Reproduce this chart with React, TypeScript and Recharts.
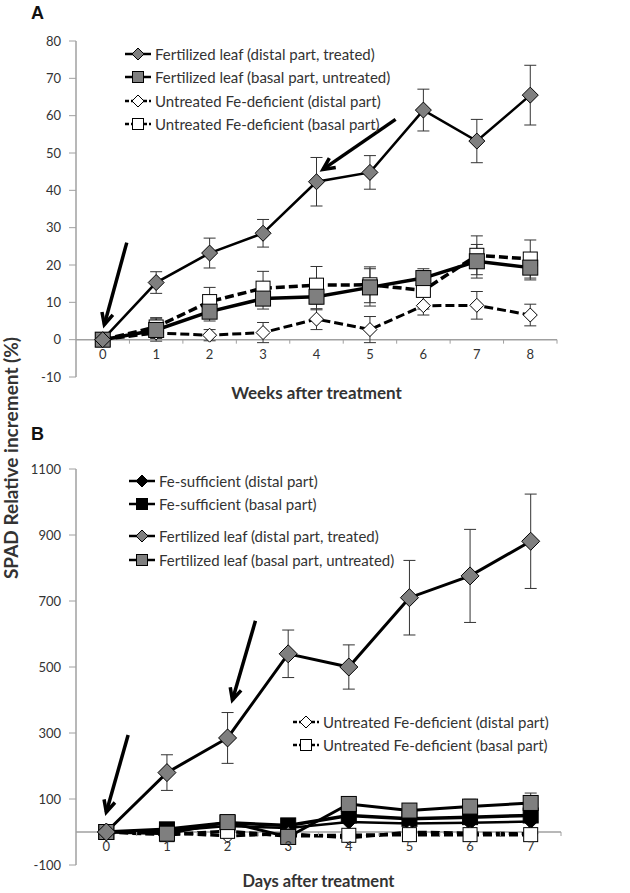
import React from 'react';
import {
  LineChart,
  Line,
  XAxis,
  YAxis,
  ErrorBar,
  ReferenceLine,
} from 'recharts';

// ---- panel A data (weeks) ----
const weeksA = [0, 1, 2, 3, 4, 5, 6, 7, 8];
const fertDistalA = [0, 15.3, 23.2, 28.5, 42.3, 44.8, 61.5, 53.2, 65.5];
const fertDistalAErr = [0, 2.9, 4, 3.7, 6.5, 4.5, 5.6, 5.8, 8];
const fertBasalA = [0, 2.6, 7.5, 11, 11.5, 14, 16.5, 21, 19.3];
const fertBasalAErr = [0, 3, 2.5, 2.8, 3.5, 5, 2.5, 4.5, 3.3];
const untrDistalA = [0, 1.8, 1.2, 1.9, 5.5, 2.7, 9.1, 9.2, 6.6];
const untrDistalAErr = [0, 1.5, 1.5, 2.7, 2.8, 3.5, 2.5, 3.7, 2.9];
const untrBasalA = [0, 3.4, 10.2, 13.8, 14.6, 14.7, 13.2, 22.6, 21.6];
const untrBasalAErr = [0, 2.5, 3.8, 4.5, 5, 4.8, 5, 5.2, 5.1];
const ticksA = [-10, 0, 10, 20, 30, 40, 50, 60, 70, 80];

// ---- panel B data (days) ----
const daysB = [0, 1, 2, 3, 4, 5, 6, 7];
const fertDistalB = [0, 180, 285, 540, 500, 710, 776, 881];
const fertDistalBErr = [0, 54, 77, 72, 67, 113, 141, 143];
const fertBasalB = [0, -5, 30, -15, 85, 65, 77, 88];
const fertBasalBErr = [0, 8, 10, 8, 10, 8, 22, 30];
const suffDistalB = [0, 3, 18, 12, 30, 26, 28, 32];
const suffBasalB = [0, 8, 28, 20, 50, 40, 45, 50];
const untrDistalB = [0, -3, -12, -5, -18, 0, -3, -5];
const untrBasalB = [0, -8, 2, -12, -10, -8, -8, -8];
const ticksB = [-100, 100, 300, 500, 700, 900, 1100];

const dataA = weeksA.map((w, i) => ({
  x: w,
  fd: fertDistalA[i],
  fdErr: fertDistalAErr[i],
  fb: fertBasalA[i],
  fbErr: fertBasalAErr[i],
  ud: untrDistalA[i],
  udErr: untrDistalAErr[i],
  ub: untrBasalA[i],
  ubErr: untrBasalAErr[i],
}));

const dataB = daysB.map((d, i) => ({
  x: d,
  fd: fertDistalB[i],
  fdErr: fertDistalBErr[i],
  fb: fertBasalB[i],
  fbErr: fertBasalBErr[i],
  sd: suffDistalB[i],
  sb: suffBasalB[i],
  ud: untrDistalB[i],
  ub: untrBasalB[i],
}));

const FONT = 'Lato, "Open Sans", sans-serif';
const AXIS = '#a0a0a0';
const TEXT = '#333333';
const GRAY = '#7f7f7f';

const W = 630;

// layout of the two panels
const A = { top: 0, height: 403, mTop: 41, mLeft: 30, yw: 46, mRight: 73, xh: 26 };
const B = { top: 430, height: 463, mTop: 39, mLeft: 30, yw: 46, mRight: 69, xh: 28 };

const Diamond = ({ cx, cy, r, fill }: any) => (
  <path
    d={`M${cx},${cy - r} L${cx + r},${cy} L${cx},${cy + r} L${cx - r},${cy} Z`}
    fill={fill}
    stroke="#000"
    strokeWidth={1}
  />
);

const Square = ({ cx, cy, r, fill }: any) => (
  <rect x={cx - r} y={cy - r} width={2 * r} height={2 * r} fill={fill} stroke="#000" strokeWidth={1} />
);

const dotFn = (kind: 'd' | 's', fill: string, r: number) => (props: any) => {
  const { cx, cy, index } = props;
  if (cx == null || cy == null) return <g key={index} />;
  return kind === 'd' ? (
    <Diamond key={index} cx={cx} cy={cy} r={r} fill={fill} />
  ) : (
    <Square key={index} cx={cx} cy={cy} r={r} fill={fill} />
  );
};

// x tick drawn on the zero line, with tick marks at category boundaries
const makeTick = (p: typeof A, yMin: number, yMax: number, n: number) => {
  const plotH = p.height - p.mTop - p.xh;
  const plotW = W - p.mLeft - p.yw - p.mRight;
  const zeroUp = (plotH * (0 - yMin)) / (yMax - yMin);
  const half = plotW / n / 2;
  return (props: any) => {
    const { x, y, payload } = props;
    const y0 = y - zeroUp;
    return (
      <g>
        <line x1={x + half} x2={x + half} y1={y0} y2={y0 + 4} stroke={AXIS} strokeWidth={1} />
        <text x={x} y={y0 + 19} textAnchor="middle" fill={TEXT} fontSize={13} fontFamily={FONT}>
          {payload.value}
        </text>
      </g>
    );
  };
};

const Arrow = (props: any) => {
  const { x1, y1, x2, y2 } = props;
  if ([x1, y1, x2, y2].some((v) => v == null || isNaN(v))) return <g />;
  const ang = Math.atan2(y2 - y1, x2 - x1);
  const len = 13;
  const spread = 0.45;
  const ax = x2 - len * Math.cos(ang - spread);
  const ay = y2 - len * Math.sin(ang - spread);
  const bx = x2 - len * Math.cos(ang + spread);
  const by = y2 - len * Math.sin(ang + spread);
  return (
    <g>
      <line x1={x1} y1={y1} x2={x2} y2={y2} stroke="#000" strokeWidth={3.5} />
      <polyline points={`${ax},${ay} ${x2},${y2} ${bx},${by}`} fill="none" stroke="#000" strokeWidth={3.5} />
    </g>
  );
};

type LegendItem = { label: string; kind: 'd' | 's'; fill: string; dashed?: boolean; y: number };

const legendA: LegendItem[] = [
  { label: 'Fertilized leaf (distal part, treated)', kind: 'd', fill: GRAY, y: 54 },
  { label: 'Fertilized leaf (basal part, untreated)', kind: 's', fill: GRAY, y: 77 },
  { label: 'Untreated Fe-deficient (distal part)', kind: 'd', fill: '#fff', dashed: true, y: 100.5 },
  { label: 'Untreated Fe-deficient (basal part)', kind: 's', fill: '#fff', dashed: true, y: 124 },
];

const legendB1: LegendItem[] = [
  { label: 'Fe-sufficient (distal part)', kind: 'd', fill: '#000', y: 481 },
  { label: 'Fe-sufficient (basal part)', kind: 's', fill: '#000', y: 504 },
  { label: 'Fertilized leaf (distal part, treated)', kind: 'd', fill: GRAY, y: 536 },
  { label: 'Fertilized leaf (basal part, untreated)', kind: 's', fill: GRAY, y: 559.5 },
];

const legendB2: LegendItem[] = [
  { label: 'Untreated Fe-deficient (distal part)', kind: 'd', fill: '#fff', dashed: true, y: 722 },
  { label: 'Untreated Fe-deficient (basal part)', kind: 's', fill: '#fff', dashed: true, y: 745 },
];

const LegendBlock = ({ items, left }: { items: LegendItem[]; left: number }) => (
  <>
    {items.map((it) => (
      <div
        key={it.label}
        style={{
          position: 'absolute',
          left,
          top: it.y - 10,
          height: 20,
          display: 'flex',
          alignItems: 'center',
          fontFamily: FONT,
          fontSize: 15,
          color: TEXT,
          whiteSpace: 'nowrap',
        }}
      >
        <svg width={28} height={20} style={{ marginRight: 3 }}>
          <line
            x1={1}
            x2={27}
            y1={10}
            y2={10}
            stroke="#000"
            strokeWidth={2.5}
            strokeDasharray={it.dashed ? '4 2' : undefined}
          />
          {it.kind === 'd' ? (
            <Diamond cx={14} cy={10} r={6} fill={it.fill} />
          ) : (
            <Square cx={14} cy={10} r={5.5} fill={it.fill} />
          )}
        </svg>
        {it.label}
      </div>
    ))}
  </>
);

const ChartA = () => (
  <LineChart
    width={W}
    height={A.height}
    data={dataA}
    margin={{ top: A.mTop, right: A.mRight, bottom: 0, left: A.mLeft }}
  >
    <XAxis
      dataKey="x"
      type="number"
      domain={[-0.5, 8.5]}
      ticks={weeksA}
      height={A.xh}
      axisLine={false}
      tickLine={false}
      tickSize={0}
      tickMargin={0}
      tick={makeTick(A, -10, 80, weeksA.length)}
      label={{
        value: 'Weeks after treatment',
        position: 'insideBottom',
        offset: 4,
        fill: TEXT,
        fontSize: 17,
        fontWeight: 700,
        fontFamily: FONT,
      }}
    />
    <YAxis
      type="number"
      domain={[-10, 80]}
      ticks={ticksA}
      width={A.yw}
      tickSize={7}
      tickMargin={8}
      axisLine={{ stroke: AXIS, strokeWidth: 1.5 }}
      tickLine={{ stroke: AXIS }}
      tick={{ fill: TEXT, fontSize: 13, fontFamily: FONT }}
    />
    <ReferenceLine y={0} stroke={AXIS} strokeWidth={1.5} />
    <ReferenceLine segment={[{ x: 0.45, y: 26 }, { x: 0.03, y: 4 }]} shape={<Arrow />} />
    <ReferenceLine segment={[{ x: 5.48, y: 59 }, { x: 4.12, y: 45.6 }]} shape={<Arrow />} />
    <Line
      dataKey="ud"
      stroke="#000"
      strokeWidth={3}
      strokeDasharray="9 4"
      dot={dotFn('d', '#fff', 7)}
      isAnimationActive={false}
    >
      <ErrorBar dataKey="udErr" direction="y" width={6} stroke="#333" strokeWidth={1} />
    </Line>
    <Line
      dataKey="ub"
      stroke="#000"
      strokeWidth={3.5}
      strokeDasharray="9 4"
      dot={dotFn('s', '#fff', 7)}
      isAnimationActive={false}
    >
      <ErrorBar dataKey="ubErr" direction="y" width={6} stroke="#333" strokeWidth={1} />
    </Line>
    <Line dataKey="fb" stroke="#000" strokeWidth={3.5} dot={dotFn('s', GRAY, 7.5)} isAnimationActive={false}>
      <ErrorBar dataKey="fbErr" direction="y" width={6} stroke="#333" strokeWidth={1} />
    </Line>
    <Line dataKey="fd" stroke="#000" strokeWidth={2.5} dot={dotFn('d', GRAY, 8)} isAnimationActive={false}>
      <ErrorBar dataKey="fdErr" direction="y" width={6} stroke="#333" strokeWidth={1} />
    </Line>
  </LineChart>
);

const ChartB = () => (
  <LineChart
    width={W}
    height={B.height}
    data={dataB}
    margin={{ top: B.mTop, right: B.mRight, bottom: 0, left: B.mLeft }}
  >
    <XAxis
      dataKey="x"
      type="number"
      domain={[-0.5, 7.5]}
      ticks={daysB}
      height={B.xh}
      axisLine={false}
      tickLine={false}
      tickSize={0}
      tickMargin={0}
      tick={makeTick(B, -100, 1100, daysB.length)}
      label={{
        value: 'Days after treatment',
        position: 'insideBottom',
        offset: 6,
        fill: TEXT,
        fontSize: 16.5,
        fontWeight: 700,
        fontFamily: FONT,
      }}
    />
    <YAxis
      type="number"
      domain={[-100, 1100]}
      ticks={ticksB}
      width={B.yw}
      tickSize={7}
      tickMargin={8}
      axisLine={{ stroke: AXIS, strokeWidth: 1.5 }}
      tickLine={{ stroke: AXIS }}
      tick={{ fill: TEXT, fontSize: 13, fontFamily: FONT }}
    />
    <ReferenceLine y={0} stroke={AXIS} strokeWidth={1.5} />
    <ReferenceLine segment={[{ x: 0.36, y: 294 }, { x: 0.0, y: 60 }]} shape={<Arrow />} />
    <ReferenceLine segment={[{ x: 2.46, y: 640 }, { x: 2.08, y: 400 }]} shape={<Arrow />} />
    <Line dataKey="sd" stroke="#000" strokeWidth={2.5} dot={dotFn('d', '#000', 7)} isAnimationActive={false} />
    <Line dataKey="sb" stroke="#000" strokeWidth={3.5} dot={dotFn('s', '#000', 7.5)} isAnimationActive={false} />
    <Line
      dataKey="ud"
      stroke="#000"
      strokeWidth={3}
      strokeDasharray="9 4"
      dot={dotFn('d', '#fff', 7)}
      isAnimationActive={false}
    />
    <Line
      dataKey="ub"
      stroke="#000"
      strokeWidth={3.5}
      strokeDasharray="9 4"
      dot={dotFn('s', '#fff', 7)}
      isAnimationActive={false}
    />
    <Line dataKey="fb" stroke="#000" strokeWidth={3} dot={dotFn('s', GRAY, 7.5)} isAnimationActive={false}>
      <ErrorBar dataKey="fbErr" direction="y" width={6} stroke="#333" strokeWidth={1} />
    </Line>
    <Line dataKey="fd" stroke="#000" strokeWidth={3} dot={dotFn('d', GRAY, 9)} isAnimationActive={false}>
      <ErrorBar dataKey="fdErr" direction="y" width={6} stroke="#333" strokeWidth={1} />
    </Line>
  </LineChart>
);

const panelLetter: React.CSSProperties = {
  position: 'absolute',
  left: 31,
  fontFamily: '"Liberation Sans", Arial, sans-serif',
  fontWeight: 700,
  fontSize: 18,
  color: '#111',
};

export default function App() {
  return (
    <div style={{ position: 'absolute', left: 0, top: 0, width: W, height: 893, background: '#fff', overflow: 'hidden' }}>
      <div style={{ position: 'absolute', left: 0, top: A.top }}>
        <ChartA />
      </div>
      <div style={{ position: 'absolute', left: 0, top: B.top }}>
        <ChartB />
      </div>
      <LegendBlock items={legendA} left={124} />
      <LegendBlock items={legendB1} left={128} />
      <LegendBlock items={legendB2} left={292} />
      <div style={{ ...panelLetter, top: 3 }}>A</div>
      <div style={{ ...panelLetter, top: 424 }}>B</div>
      <svg style={{ position: 'absolute', left: 0, top: 0 }} width={30} height={893}>
        <text
          transform="translate(18,458) rotate(-90)"
          textAnchor="middle"
          fontFamily={FONT}
          fontWeight={700}
          fontSize={19}
          fill={TEXT}
        >
          SPAD Relative increment (%)
        </text>
      </svg>
    </div>
  );
}
